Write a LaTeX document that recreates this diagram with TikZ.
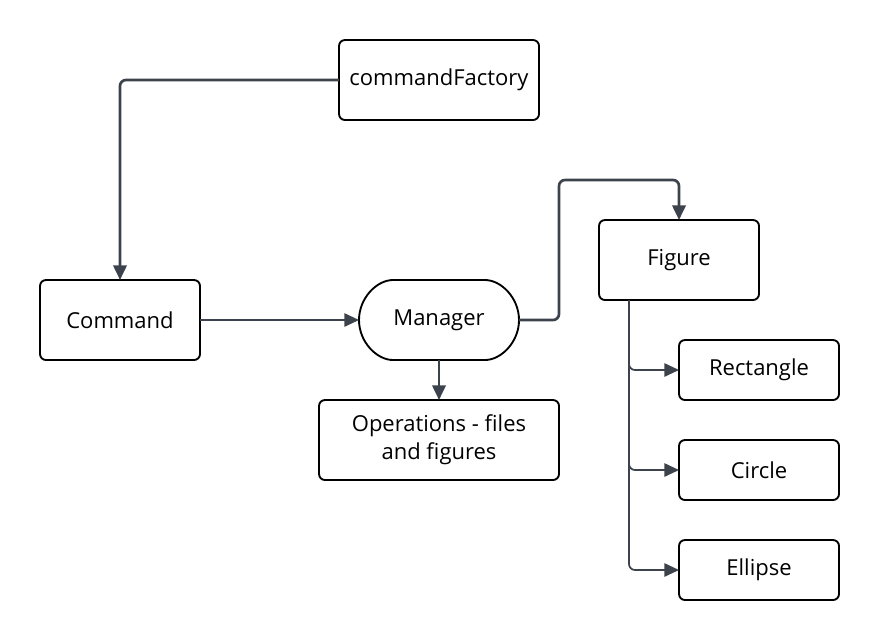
\documentclass[tikz,border=0pt]{standalone}
\usepackage{fontspec}
\setmainfont{Open Sans}
\usetikzlibrary{arrows.meta,shapes.misc}
\definecolor{linkgray}{HTML}{3D434C}
\tikzset{
  box/.style={draw, line width=1.4pt, rounded corners=4.5pt, minimum width=120pt,
    minimum height=60pt, inner sep=0pt, outer sep=0pt, font=\fontsize{16.5}{21}\selectfont},
  pill/.style={box, rounded rectangle},
  small/.style={box, minimum height=45pt},
  link/.style={linkgray, line width=1.3pt, rounded corners=4.5pt,
    -{Triangle[length=11pt,width=10pt]}},
  thicklink/.style={link, line width=2pt}
}
\begin{document}
\begin{tikzpicture}[x=0.75pt, y=-0.75pt]
    \useasboundingbox (0,0) rectangle (880,640);

    % boxes
    \node[box, minimum width=150pt] (factory) at (439,80) {commandFactory};
    \node[box] (command) at (120,320) {Command};
    \node[pill] (manager) at (439,320) {Manager};
    \node[box, minimum width=180pt, align=center] (ops) at (439,440) {Operations - files\\and figures};
    \node[box] (figure) at (679,260) {Figure};
    \node[small] (rect) at (759,370) {Rectangle};
    \node[small] (circ) at (759,470) {Circle};
    \node[small] (ell) at (759,570) {Ellipse};

    % helper points
    \coordinate (bend) at (559,180);
    \coordinate (trunk) at ([xshift=22.5pt]figure.south west);

    % links
    \draw[thicklink] (factory.west) -| (command.north);
    \draw[link] (command) -- (manager);
    \draw[thicklink] (manager.east) -| (bend) -| (figure.north);
    \draw[thicklink] (manager) -- (ops);

    % figure kinds
    \draw[link] (trunk) |- (rect.west);
    \draw[link] (trunk) |- (circ.west);
    \draw[link] (trunk) |- (ell.west);
\end{tikzpicture}
\end{document}
